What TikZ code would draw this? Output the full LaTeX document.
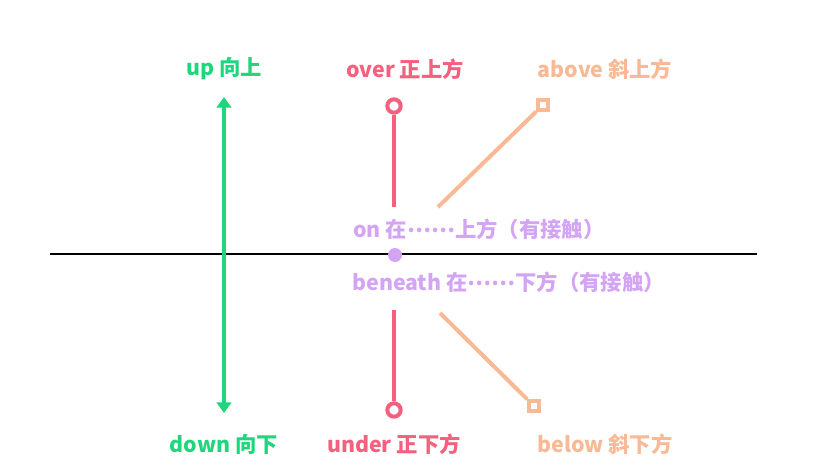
\documentclass[tikz,border=0pt]{standalone}
\usepackage{fontspec}
\setmainfont{Noto Sans CJK SC}
\usetikzlibrary{arrows.meta}
\definecolor{cgreen}{HTML}{1FD67D}
\definecolor{cpink}{HTML}{F4607E}
\definecolor{cpeach}{HTML}{F8B994}
\definecolor{cpurple}{HTML}{D3A4F4}
\newcommand{\midell}{\raisebox{0.22em}{……}}
\tikzset{
  lbl/.style={font=\bfseries\fontsize{16}{18}\selectfont, inner sep=0pt},
  gline/.style={cgreen, line width=3pt, {Triangle[width=11pt,length=8pt]}-{Triangle[width=11pt,length=8pt]}},
  pline/.style={cpink, line width=3pt},
  oline/.style={cpeach, line width=3pt},
  pcirc/.style={circle, draw=cpink, line width=3pt, fill=white, minimum size=10pt, inner sep=0pt},
  osq/.style={rectangle, draw=cpeach, line width=2.6pt, fill=white, minimum size=7.5pt, inner sep=0pt},
}
\begin{document}
\begin{tikzpicture}[x=0.75pt,y=-0.75pt]
\useasboundingbox (0,0) rectangle (818,467);
% base line
\coordinate (bl) at (50,254);
\coordinate (br) at (757,254);
\draw[black, line width=2.1pt] (bl) -- (br);
% green
\coordinate (gt) at (224,97);
\coordinate (gb) at (224,413);
\draw[gline] (gt) -- (gb);
\node[lbl, text=cgreen] (up) at (224,69) {up 向上};
\node[lbl, text=cgreen] (down) at (224,444) {down 向下};
% pink
\node[pcirc] (ct) at (394,106) {};
\node[pcirc] (cb) at (394,410) {};
\coordinate (pt) at (394,207);
\coordinate (pb) at (394,310);
\draw[pline] (ct) -- (pt);
\draw[pline] (pb) -- (cb);
\node[lbl, text=cpink] (over) at (405,69) {over 正上方};
\node[lbl, text=cpink] (under) at (394,444) {under 正下方};
% peach
\node[osq] (st) at (543,105) {};
\node[osq] (sb) at (534,406) {};
\coordinate (ot) at (438,207);
\coordinate (ob) at (440,313);
\draw[oline] (ot) -- (st);
\draw[oline] (ob) -- (sb);
\node[lbl, text=cpeach] (above) at (605,69) {above 斜上方};
\node[lbl, text=cpeach] (below) at (605,444) {below 斜下方};
% purple
\node[circle, fill=cpurple, minimum size=10.5pt, inner sep=0pt] (dot) at (395,255) {};
\node[lbl, text=cpurple, anchor=west] (on) at (353,229) {on 在\midell 上方（有接触）};
\node[lbl, text=cpurple, anchor=west] (beneath) at (352,282) {beneath 在\midell 下方（有接触）};
\end{tikzpicture}
\end{document}
